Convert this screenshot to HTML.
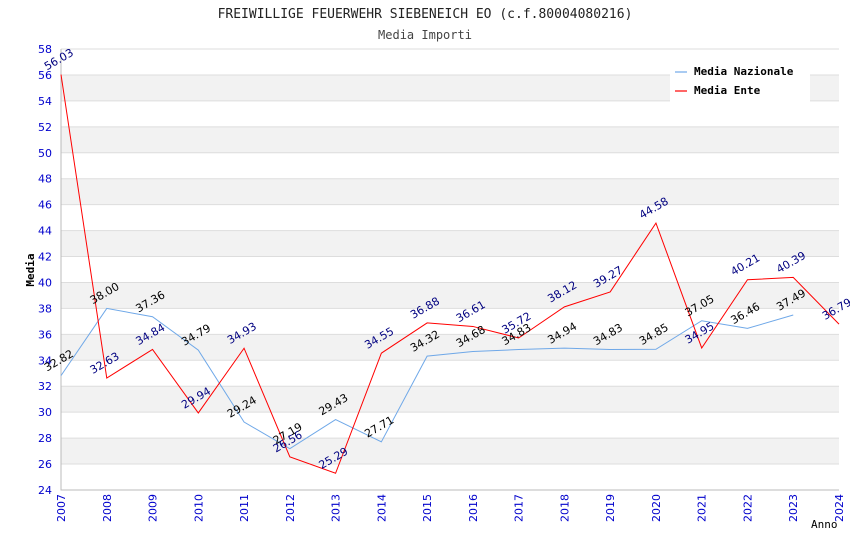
<!DOCTYPE html>
<html><head><meta charset="utf-8"><style>
body{margin:0;background:#fff;}
svg text{font-family:"DejaVu Sans Mono","Liberation Mono",monospace;}
svg text.sans{font-family:"DejaVu Sans","Liberation Sans",sans-serif;}
</style></head><body>
<svg id="chart" width="850" height="550" xmlns="http://www.w3.org/2000/svg">
<text x="425" y="18" text-anchor="middle" font-size="13" fill="#222">FREIWILLIGE FEUERWEHR SIEBENEICH EO (c.f.80004080216)</text>
<text x="425" y="39" text-anchor="middle" font-size="12" fill="#444">Media Importi</text>
<g id="bands"></g><g id="grid"></g><g id="axes"></g><g id="series"></g><g id="labels"></g>
<text transform="translate(34,270) rotate(-90)" text-anchor="middle" font-size="11" font-weight="bold" fill="#000">Media</text>
<text x="811" y="528" font-size="11" fill="#000">Anno</text>
<g>
<rect x="670" y="60" width="140" height="42" fill="#fff"/>
<line x1="675" y1="72" x2="687" y2="72" stroke="#6fa8e8" stroke-width="1.2"/>
<text x="694" y="75" font-size="11" font-weight="bold">Media Nazionale</text>
<line x1="675" y1="91" x2="687" y2="91" stroke="#ff0000" stroke-width="1.2"/>
<text x="694" y="94" font-size="11" font-weight="bold">Media Ente</text>
</g>
</svg>
<script>
const years=[2007,2008,2009,2010,2011,2012,2013,2014,2015,2016,2017,2018,2019,2020,2021,2022,2023,2024];
const nazionale=[32.82,38.00,37.36,34.79,29.24,27.19,29.43,27.71,34.32,34.68,34.83,34.94,34.83,34.85,37.05,36.46,37.49];
const ente=[56.03,32.63,34.84,29.94,34.93,26.56,25.29,34.55,36.88,36.61,35.72,38.12,39.27,44.58,34.95,40.21,40.39,36.79];
const yTicks=[24,26,28,30,32,34,36,38,40,42,44,46,48,50,52,54,56,58];
const X0=61,X1=839,Y0=490,Y1=49;
const xs=i=>X0+(X1-X0)*i/(years.length-1);
const ys=v=>Y0-(v-24)/(58-24)*(Y0-Y1);
const NS="http://www.w3.org/2000/svg";
function mk(tag,attrs,parent,text){const e=document.createElementNS(NS,tag);for(const k in attrs)e.setAttribute(k,attrs[k]);if(text!==undefined)e.textContent=text;document.getElementById(parent).appendChild(e);return e;}
for(let i=0;i<yTicks.length-1;i++){
 if(i%2===1){const r=mk('rect',{x:X0,y:ys(yTicks[i+1]),width:X1-X0,height:ys(yTicks[i])-ys(yTicks[i+1]),fill:'#f2f2f2'},'bands');
 
 }
}
yTicks.forEach(t=>{
 const l=mk('line',{x1:X0,x2:X1,y1:ys(t),y2:ys(t),stroke:'#dddddd','stroke-width':1},'grid');
 
 
 const tx=mk('text',{x:X0-9,y:ys(t)+4,'text-anchor':'end','font-size':11,fill:'#0000cc',class:'sans'},'axes',t);
 
 
});
years.forEach((y,i)=>{
 const tx=mk('text',{transform:`translate(${xs(i)+4},${Y0+32}) rotate(-90)`,'font-size':11,fill:'#0000cc',class:'sans'},'axes',y);
 
 
});
const ax=mk('path',{d:`M${X0},${Y1}V${Y0}H${X1}`,stroke:'#bbb',fill:'none'},'axes');


function series(data,color,lc,name){
 const p=mk('polyline',{points:data.map((v,i)=>xs(i)+','+ys(v)).join(' '),fill:'none',stroke:color,'stroke-width':1},'series');
 
 
 data.forEach((v,i)=>{
  const t=mk('text',{transform:`translate(${xs(i)-14},${ys(v)-4}) rotate(-30)`,'font-size':11,fill:lc,class:'sans'},'labels',v.toFixed(2));
  
  
 });
}
series(nazionale,'#6fa8e8','#000','nazionale');
series(ente,'#ff0000','#000080','ente');
</script>
</body></html>
